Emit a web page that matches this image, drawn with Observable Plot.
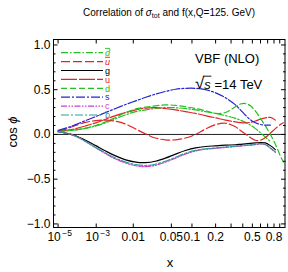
<!DOCTYPE html>
<html><head><meta charset="utf-8">
<script src="https://cdn.jsdelivr.net/npm/d3@7"></script>
<script src="https://cdn.jsdelivr.net/npm/@observablehq/plot@0.6"></script>
<style>
body{margin:0;background:#fff}
#wrap{position:relative;width:288px;height:272px;font-family:"Liberation Sans",Arial,Helvetica,sans-serif;color:#000}
#wrap svg{display:block}
#ov{position:absolute;left:0;top:0;pointer-events:none}
</style></head><body>
<div id="wrap"></div>
<script>
// ---- data ----
const xs = [1e-5, 3.8e-5, 1.4e-4, 4.0e-4, 9.6e-4, 0.002, 0.0038, 0.0068, 0.0113, 0.018, 0.027, 0.040, 0.058, 0.081, 0.112, 0.15, 0.20, 0.26, 0.335, 0.378, 0.426, 0.478, 0.536, 0.598, 0.667, 0.742, 0.823, 0.911, 0.968];
const dbar = [0.035, 0.04, 0.05, 0.068, 0.095, 0.13, 0.175, 0.22, 0.255, 0.275, 0.29, 0.30, 0.298, 0.29, 0.275, 0.255, 0.235, 0.21, 0.18, 0.16, 0.135, 0.105, 0.065, 0.02, -0.03, -0.08, null, null, null];
const ubar = [0.035, 0.06, 0.1, 0.135, 0.155, 0.16, 0.148, 0.115, 0.06, 0.005, -0.04, -0.06, -0.06, -0.04, 0.0, 0.06, 0.11, 0.125, 0.085, 0.045, 0.005, -0.035, -0.065, -0.065, -0.035, 0.015, 0.065, 0.11, 0.13];
const g = [0.03, 0.015, -0.015, -0.065, -0.125, -0.185, -0.24, -0.285, -0.31, -0.315, -0.30, -0.265, -0.22, -0.18, -0.15, -0.135, -0.127, -0.12, -0.115, -0.11, -0.105, -0.10, -0.095, -0.09, -0.095, -0.125, -0.17, null, null];
const u = [0.035, 0.045, 0.065, 0.095, 0.13, 0.17, 0.21, 0.245, 0.275, 0.295, 0.30, 0.29, 0.275, 0.255, 0.235, 0.21, 0.185, 0.16, 0.14, 0.133, 0.13, 0.135, 0.15, 0.17, 0.185, 0.19, 0.16, null, null];
const d = [0.035, 0.04, 0.05, 0.07, 0.1, 0.14, 0.19, 0.245, 0.285, 0.305, 0.32, 0.33, 0.325, 0.31, 0.29, 0.265, 0.235, 0.245, 0.31, 0.34, 0.345, 0.32, 0.26, 0.18, 0.095, 0.0, -0.11, -0.24, -0.31];
const s = [0.045, 0.07, 0.11, 0.155, 0.2, 0.245, 0.29, 0.335, 0.375, 0.415, 0.45, 0.48, 0.505, 0.515, 0.515, 0.5, 0.465, 0.41, 0.33, 0.275, 0.215, 0.165, 0.13, 0.112, 0.105, 0.103, null, null, null];
const c = [0.03, 0.015, -0.02, -0.08, -0.15, -0.215, -0.275, -0.32, -0.35, -0.36, -0.345, -0.31, -0.265, -0.22, -0.185, -0.165, -0.155, -0.145, -0.135, -0.13, -0.125, -0.12, -0.113, -0.107, -0.115, -0.155, -0.2, null, null];
const b = [0.03, 0.015, -0.02, -0.078, -0.145, -0.208, -0.265, -0.31, -0.338, -0.347, -0.333, -0.3, -0.255, -0.21, -0.178, -0.16, -0.15, -0.14, -0.13, -0.125, -0.12, -0.115, -0.108, -0.102, -0.11, -0.15, -0.195, null, null];

const seriesNames = ["dbar", "ubar", "g", "u", "d", "s", "c", "b"];
const seriesLabels = ["d", "u", "g", "u", "d", "s", "c", "b"];
const seriesValues = [dbar, ubar, g, u, d, s, c, b];

const xTicks = [1e-5, 1e-3, 0.01, 0.05, 0.1, 0.2, 0.5, 0.8];
const xPowTicks = [1e-5, 1e-3];
const xPowBase = ["10", "10"];
const xPowExp = ["\u22125", "\u22123"];
const xDecTicks = [0.01, 0.05, 0.1, 0.2, 0.5, 0.8];
const xDecLabels = ["0.01", "0.05", "0.1", "0.2", "0.5", "0.8"];
const xMinorTicks = [0.3, 0.4, 0.6, 0.7, 0.9];
const yTicks = [-1, -0.5, 0, 0.5, 1];
const yMinorTicks = d3.range(-10, 11).map(i => i / 10).filter(v => !yTicks.includes(v));

// ---- styles ----
const GREEN = "#22c022", RED = "#e02424", BLUE = "#2424cc", MAG = "#cc3ccc", TEAL = "#2f9c9c";
const seriesColors = [GREEN, RED, "#000", RED, GREEN, BLUE, MAG, TEAL];
const seriesDash = ["7,2,1.5,2", "9,3", null, "16,2", "6,3", "9,2,2,2", "6,1.5,1.5,1.5,1.5,1.5", "8,2,2,2"];
const seriesItalic = [true, true, false, false, false, false, false, false];
const seriesBar = [true, true, false, false, false, false, false, false];

const rows = seriesNames.flatMap((name, i) =>
  xs.map((x, j) => ({x, y: seriesValues[i][j], series: name})).filter(r => r.y != null));

const decFmt = v => xDecLabels[xDecTicks.indexOf(v)];
const baseFmt = v => xPowBase[xPowTicks.indexOf(v)];
const expFmt = v => xPowExp[xPowTicks.indexOf(v)];

const chart = Plot.plot({
  width: 288, height: 272,
  marginLeft: 53, marginRight: 3.5, marginTop: 39, marginBottom: 45,
  style: {fontFamily: '"Liberation Sans", Arial, sans-serif', fontSize: "12px", background: "white", color: "black"},
  x: {type: "pow", exponent: 0.2, domain: [3.66e-6, 1]},
  y: {domain: [-1.04, 1.061]},
  marks: [
    Plot.ruleY([0], {stroke: "#222", strokeWidth: 1}),
    ...seriesNames.map((name, i) => Plot.line(rows.filter(r => r.series === name), {
      x: "x", y: "y", stroke: seriesColors[i], strokeWidth: 1.2,
      strokeDasharray: seriesDash[i], curve: "catmull-rom", clip: true
    })),
    Plot.frame({stroke: "black", strokeWidth: 1}),
    Plot.axisX(xTicks, {anchor: "bottom", tickSize: -3.5, fill: "none", label: null}),
    Plot.axisX(xMinorTicks, {anchor: "bottom", tickSize: -3.5, fill: "none", label: null}),
    Plot.axisX(xTicks, {anchor: "top", tickSize: -3.5, fill: "none", label: null}),
    Plot.axisX(xMinorTicks, {anchor: "top", tickSize: -3.5, fill: "none", label: null}),
    Plot.axisX(xDecTicks, {anchor: "bottom", tickSize: 0, tickPadding: 5, tickFormat: decFmt, label: null, fontSize: 12}),
    Plot.axisX(xPowTicks, {anchor: "bottom", tickSize: 0, tickPadding: 5, tickFormat: baseFmt, label: null, fontSize: 12, dx: -4}),
    Plot.axisX(xPowTicks, {anchor: "bottom", tickSize: 0, tickPadding: 2, tickFormat: expFmt, label: null, fontSize: 8.5, dx: 9}),
    Plot.axisY(yTicks, {anchor: "left", tickSize: -4.5, fill: "none", label: null}),
    Plot.axisY(yMinorTicks, {anchor: "left", tickSize: -2.5, fill: "none", label: null}),
    Plot.axisY(yTicks, {anchor: "right", tickSize: -4.5, fill: "none", label: null}),
    Plot.axisY(yMinorTicks, {anchor: "right", tickSize: -2.5, fill: "none", label: null}),
    Plot.axisY(yTicks, {anchor: "left", tickSize: 0, tickPadding: 3, tickFormat: d3.format(".1f"), label: null, fontSize: 12})
  ]
});

const wrap = document.getElementById("wrap");
wrap.appendChild(chart);

// ---- annotations overlay: title, axis titles, legend, labels ----
const ov = d3.select(wrap).append("svg").attr("id", "ov")
  .attr("width", 288).attr("height", 272)
  .style("font-family", '"Liberation Sans", Arial, sans-serif');

const t = ov.append("text").attr("x", 169).attr("y", 16).attr("text-anchor", "middle").attr("font-size", 10);
t.append("tspan").text("Correlation of ");
t.append("tspan").attr("font-style", "italic").text("\u03C3");
t.append("tspan").attr("font-size", 7).attr("dy", 2).text("tot");
t.append("tspan").attr("dy", -2).text("\u00A0and f(x,Q=125. GeV)");

ov.append("text").attr("transform", "translate(17,132) rotate(-90)").attr("text-anchor", "middle")
  .attr("font-size", 13).html('cos <tspan font-style="italic">\u03D5</tspan>');
ov.append("text").attr("x", 170).attr("y", 267).attr("text-anchor", "middle").attr("font-size", 13).text("x");

ov.append("text").attr("x", 195).attr("y", 63).attr("font-size", 13).text("VBF (NLO)");
const r = ov.append("text").attr("x", 195).attr("y", 89).attr("font-size", 13);
r.append("tspan").attr("font-size", 17).text("\u221A");
r.append("tspan").attr("font-style", "italic").text("s");
r.append("tspan").text("\u00A0=14 TeV");
try {
  const e0 = r.node().getExtentOfChar(0), e1 = r.node().getExtentOfChar(1);
  const yTop = e0.y + 2.2;
  ov.append("line").attr("x1", e0.x + e0.width - 1).attr("x2", e1.x + e1.width + 0.5)
    .attr("y1", yTop).attr("y2", yTop).attr("stroke", "#000").attr("stroke-width", 0.9);
} catch (err) {}

const lg = ov.append("g");
seriesNames.forEach((name, i) => {
  const y = 52.7 + i * 8.9;
  lg.append("line").attr("x1", 61).attr("x2", 103).attr("y1", y).attr("y2", y)
    .attr("stroke", seriesColors[i]).attr("stroke-width", 1.2)
    .attr("stroke-dasharray", seriesDash[i]);
  const tx = lg.append("text").attr("x", 105).attr("y", y + 3.2).attr("font-size", 9)
    .attr("fill", seriesColors[i]).text(seriesLabels[i]);
  if (seriesItalic[i]) tx.attr("font-style", "italic");
  if (seriesBar[i]) tx.style("text-decoration", "overline");
});
</script>
</body></html>
